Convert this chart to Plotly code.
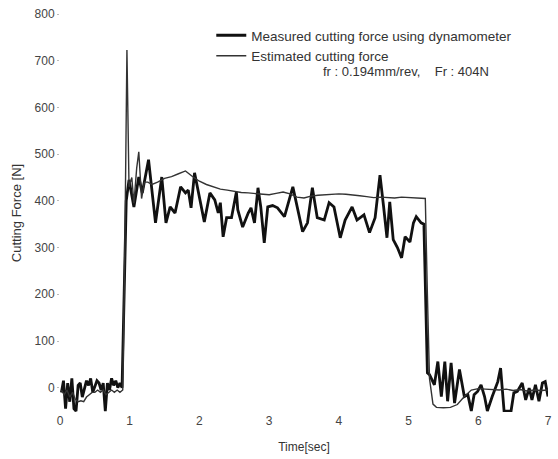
import plotly.graph_objects as go

# Measured cutting force (dynamometer)
t_meas = [0.02,0.05,0.08,0.11,0.14,0.17,0.20,0.23,0.26,0.29,0.32,0.35,0.38,0.41,0.44,0.47,0.50,0.53,0.56,0.59,
          0.62,0.65,0.68,0.71,0.74,0.77,0.80,0.83,0.86,0.89,0.92,0.95,0.99,1.06,1.13,1.18,1.27,1.37,1.46,1.52,
          1.58,1.65,1.73,1.80,1.84,1.88,1.93,2.01,2.07,2.15,2.22,2.27,2.30,2.34,2.39,2.46,2.53,2.55,2.62,2.70,
          2.74,2.79,2.84,2.88,2.93,2.98,3.05,3.12,3.22,3.34,3.41,3.48,3.55,3.62,3.69,3.79,3.86,3.93,4.02,4.09,
          4.19,4.26,4.36,4.44,4.52,4.59,4.64,4.69,4.73,4.78,4.84,4.90,4.95,5.02,5.07,5.11,5.18,5.22,5.27,5.30,
          5.37,5.42,5.47,5.52,5.56,5.61,5.66,5.73,5.80,5.85,5.90,5.94,5.99,6.04,6.09,6.13,6.20,6.28,6.32,6.37,
          6.47,6.51,6.56,6.63,6.68,6.73,6.77,6.82,6.87,6.92,6.96,7.00]
f_meas = [-10,15,-45,10,-30,20,-45,-50,5,10,-20,0,15,5,20,-10,5,15,10,-5,
          10,-50,10,-5,20,5,15,0,10,0,200,400,445,387,451,417,488,353,451,353,
          387,374,430,417,423,385,460,402,355,417,402,374,396,323,364,364,419,381,344,374,
          385,353,428,387,310,387,390,385,366,430,381,334,353,428,364,359,396,387,321,359,
          387,359,370,332,364,455,390,321,398,317,300,278,323,312,353,366,353,350,32,28,
          6,56,-19,56,-29,53,-33,39,-19,-15,-50,-15,-8,6,-19,-50,-19,13,42,-50,
          -50,-11,-8,10,-26,-1,-26,6,-29,10,13,-19]

# Estimated cutting force
t_est = [0.02,0.06,0.10,0.14,0.18,0.22,0.26,0.30,0.34,0.38,0.42,0.46,0.50,0.54,0.58,0.62,0.66,0.70,0.74,0.78,
         0.82,0.86,0.90,0.93,0.96,0.99,1.03,1.06,1.10,1.13,1.17,1.21,1.26,1.32,1.40,1.50,1.60,1.70,1.80,1.90,
         2.00,2.10,2.20,2.30,2.40,2.50,2.60,2.70,2.80,2.90,3.00,3.10,3.20,3.30,3.40,3.50,3.60,3.70,3.80,3.90,
         4.00,4.10,4.20,4.30,4.40,4.50,4.60,4.70,4.80,4.90,5.00,5.10,5.20,5.24,5.27,5.30,5.35,5.40,5.50,5.60,
         5.70,5.80,5.90,6.00,6.10,6.20,6.30,6.40,6.50,6.60,6.70,6.80,6.90,7.00]
f_est = [-5,-15,-5,-20,-10,-25,-30,-28,-30,-20,-15,-10,-10,-5,-10,-5,-15,-10,-5,-10,
         -5,-10,-5,300,723,430,450,395,470,505,405,440,440,435,440,448,452,458,464,452,
         442,435,430,425,423,420,418,417,416,414,413,416,419,415,408,406,410,412,413,414,
         415,414,413,411,409,407,408,407,406,408,407,407,406,405,200,20,-35,-42,-43,-42,
         -36,-19,-5,-2,-3,-4,-5,-3,-6,-4,-7,-5,-6,-5]

x_ticks = [0, 1, 2, 3, 4, 5, 6, 7]
y_ticks = [0, 100, 200, 300, 400, 500, 600, 700, 800]

FONT = "Liberation Sans, Arial, sans-serif"

fig = go.Figure()
fig.add_trace(go.Scatter(x=t_meas, y=f_meas, mode="lines",
                         name="Measured cutting force using dynamometer",
                         line=dict(color="#111111", width=2.8)))
fig.add_trace(go.Scatter(x=t_est, y=f_est, mode="lines",
                         name="Estimated cutting force",
                         line=dict(color="#333333", width=1.4)))

fig.update_layout(
    width=558, height=459,
    margin=dict(l=60, r=6, t=14, b=47),
    paper_bgcolor="white", plot_bgcolor="white",
    font=dict(family=FONT, size=12, color="#444444"),
    showlegend=True,
    legend=dict(x=0.31, y=0.985, xanchor="left", yanchor="top",
                bgcolor="rgba(0,0,0,0)", borderwidth=0,
                font=dict(size=13.5, color="#333333"),
                itemwidth=30, tracegroupgap=0),
    xaxis=dict(range=[0, 7], tickvals=x_ticks, showgrid=False, zeroline=False,
               showline=False, ticks="", tickfont=dict(size=12, color="#444444"),
               title=dict(text="Time[sec]", font=dict(size=12, color="#333333"), standoff=15)),
    yaxis=dict(range=[-52, 800], tickvals=y_ticks, showgrid=False, zeroline=False,
               showline=False, ticks="outside", ticklen=2, tickcolor="#bbbbbb",
               tickfont=dict(size=12, color="#444444"),
               title=dict(text="Cutting Force [N]", font=dict(size=13, color="#333333"), standoff=10)),
)

fig.add_annotation(x=0.535, y=0.855, xref="paper", yref="paper", xanchor="left", yanchor="middle",
                   text="fr : 0.194mm/rev,&nbsp;&nbsp;&nbsp;&nbsp;Fr : 404N", showarrow=False,
                   font=dict(size=13, color="#333333"))

fig.write_html("out.html")
